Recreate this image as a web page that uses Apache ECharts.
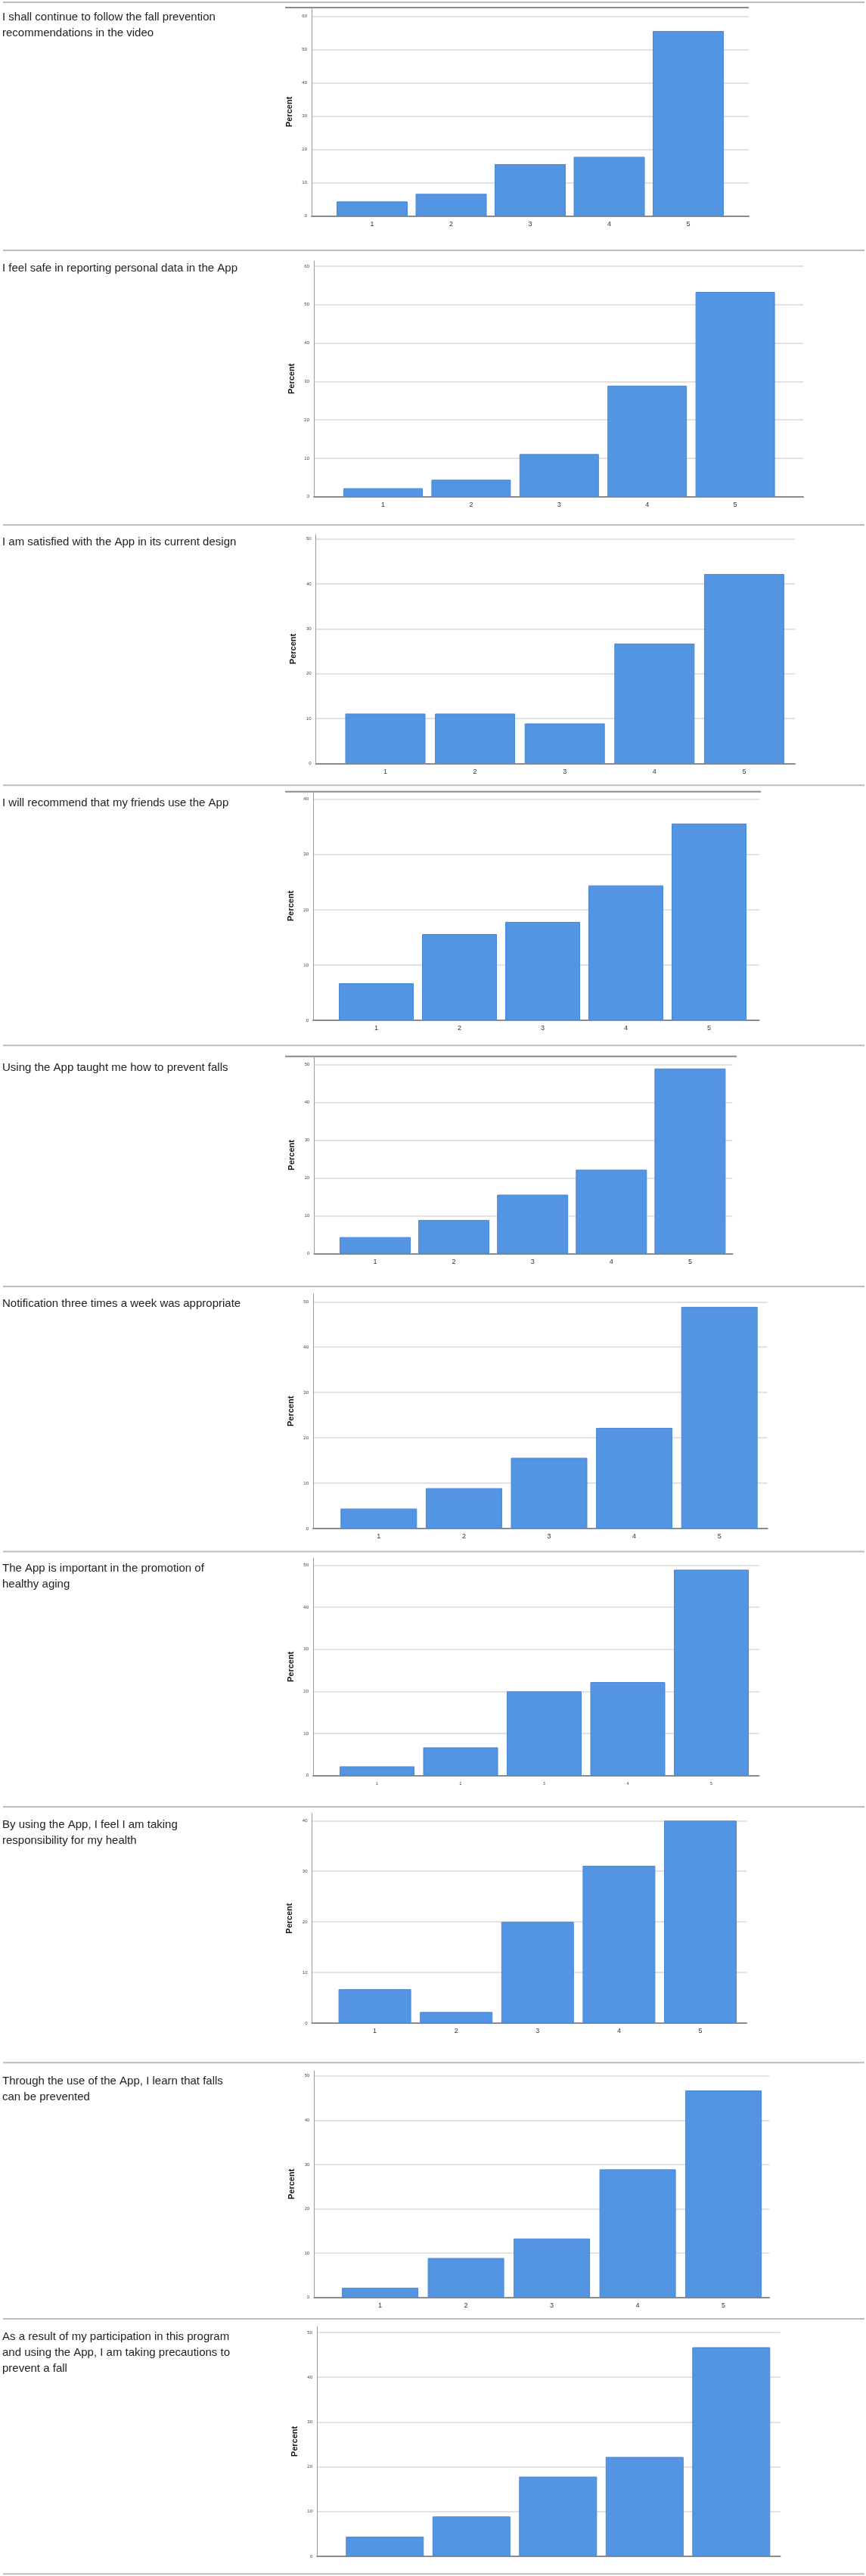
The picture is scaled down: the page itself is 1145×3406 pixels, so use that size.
<!DOCTYPE html>
<html>
<head>
<meta charset="utf-8">
<script src="https://cdn.jsdelivr.net/npm/echarts@6/dist/echarts.min.js"></script>
<style>
	html, body { margin: 0; padding: 0; background: #fff; }
	#id_survey_chart { width: 1145px; height: 3406px; }
</style>
</head>
<body>
<div id="id_survey_chart"></div>
<script>
// answer scale 1..5 shown on every x-axis
var categories = ["1", "2", "3", "4", "5"];

var questions = [
	"I shall continue to follow the fall prevention\nrecommendations in the video",
	"I feel safe in reporting personal data in the App",
	"I am satisfied with the App in its current design",
	"I will recommend that my friends use the App",
	"Using the App taught me how to prevent falls",
	"Notification three times a week was appropriate",
	"The App is important in the promotion of\nhealthy aging",
	"By using the App, I feel I am taking\nresponsibility for my health",
	"Through the use of the App, I learn that falls\ncan be prevented",
	"As a result of my participation in this program\nand using the App, I am taking precautions to\nprevent a fall"
];

// percent per answer
var pctFollowVideo = [4.4, 6.7, 15.6, 17.8, 55.6];
var pctSafeData = [2.2, 4.4, 11.1, 28.9, 53.3];
var pctSatisfied = [11.1, 11.1, 8.9, 26.7, 42.2];
var pctRecommend = [6.7, 15.6, 17.8, 24.4, 35.6];
var pctTaughtMe = [4.4, 8.9, 15.6, 22.2, 48.9];
var pctNotification = [4.4, 8.9, 15.6, 22.2, 48.9];
var pctHealthyAging = [2.2, 6.7, 20.0, 22.2, 48.9];
var pctResponsibility = [6.7, 2.2, 20.0, 31.1, 40.0];
var pctPreventable = [2.2, 8.9, 13.3, 28.9, 46.7];
var pctPrecautions = [4.4, 8.9, 17.8, 22.2, 46.7];

var allValues = [
	pctFollowVideo, pctSafeData, pctSatisfied, pctRecommend, pctTaughtMe,
	pctNotification, pctHealthyAging, pctResponsibility, pctPreventable, pctPrecautions
];

// top tick of every y-axis
var yTopTicks = [60, 60, 50, 40, 50, 50, 50, 40, 50, 50];

// page layout of each panel (pixels)
// sep: separator above, axisTop: top of y axis, tickTop: y of top tick, base: y of 0,
// ax: x of y axis, right: end of gridlines, c1: centre of bar 1, pitch, bw: bar width
var layout = [
	{ sep: 3, frame: [377, 990], axisTop: 10, tickTop: 21.7, base: 285.7, ax: 412, right: 990, c1: 492, pitch: 104.5, bw: 94, titleY: 23, labels: 9 },
	{ sep: 331, axisTop: 345, tickTop: 352, base: 656.7, ax: 415, right: 1062, c1: 506.5, pitch: 116.4, bw: 105, titleY: 355, labels: 9 },
	{ sep: 694, axisTop: 706.7, tickTop: 712.7, base: 1009.3, ax: 417.6, right: 1051, c1: 509.5, pitch: 118.6, bw: 106, titleY: 717, labels: 9 },
	{ sep: 1038.3, frame: [377, 1006], axisTop: 1046.7, tickTop: 1056.7, base: 1349, ax: 414, right: 1003.7, c1: 497.5, pitch: 110, bw: 99, titleY: 1061.7, labels: 9 },
	{ sep: 1382.3, frame: [377, 974], axisTop: 1396.7, tickTop: 1407.3, base: 1657.7, ax: 415.4, right: 968.5, c1: 496, pitch: 104.1, bw: 94, titleY: 1411.7, labels: 9 },
	{ sep: 1701, axisTop: 1710.7, tickTop: 1721.3, base: 2021, ax: 414, right: 1014.7, c1: 500.8, pitch: 112.6, bw: 101, titleY: 1724, labels: 9 },
	{ sep: 2051.5, axisTop: 2060, tickTop: 2069.3, base: 2347.7, ax: 414, right: 1003.7, c1: 498.5, pitch: 110.5, bw: 99, titleY: 2074, labels: 5 },
	{ sep: 2389, axisTop: 2398, tickTop: 2407.3, base: 2675, ax: 412.5, right: 987, c1: 495.6, pitch: 107.6, bw: 96, titleY: 2412.7, labels: 9 },
	{ sep: 2727.3, axisTop: 2738, tickTop: 2744.7, base: 3037.7, ax: 415.4, right: 1017, c1: 502.6, pitch: 113.5, bw: 101, titleY: 2751.7, labels: 9 },
	{ sep: 3066, axisTop: 3076, tickTop: 3084, base: 3380, ax: 419, right: 1031.5, c1: 508.8, pitch: 114.5, bw: 103, titleY: 3090, labels: 0 }
];
var lastSep = 3403.3;

var fontFamily = "'Liberation Sans', Arial, Helvetica, sans-serif";
var barColor = "#5495e3";

var survey_chart = echarts.init(document.getElementById("id_survey_chart"), null, { renderer: "canvas" });

var titles = [], grids = [], xAxes = [], yAxes = [], series = [], graphics = [];

function hLine(x1, x2, y, color, width) {
	graphics.push({
		type: "line",
		silent: true,
		shape: { x1: x1, y1: y, x2: x2, y2: y },
		style: { stroke: color, lineWidth: width }
	});
}

layout.forEach(function (p, i) {
	var lineH = 21;
	titles.push({
		text: questions[i],
		left: 3,
		top: p.titleY - lineH / 2,
		padding: 0,
		textStyle: { fontFamily: fontFamily, fontSize: 15, fontWeight: "normal", color: "#222", lineHeight: lineH }
	});

	hLine(4, 1143, p.sep, "#bdbdbd", 2);
	if (p.frame) hLine(p.frame[0], p.frame[1], p.axisTop, "#8a8a8a", 2);

	// stretch max so the y axis line reaches up to axisTop
	var yMax = yTopTicks[i] * (p.base - p.axisTop) / (p.base - p.tickTop);
	var h = p.base - p.axisTop;

	// grid for axis frame, gridlines and tick labels
	grids.push({ left: p.ax, top: p.axisTop, width: p.right - p.ax, height: h });
	// grid for the bars, narrower like the SPSS plot
	grids.push({ left: p.c1 - p.pitch / 2, top: p.axisTop, width: p.pitch * 5, height: h });

	xAxes.push({
		gridIndex: 2 * i,
		type: "value",
		min: 0,
		max: 1,
		axisLine: { show: true, lineStyle: { color: "#8c8c8c", width: 2 } },
		axisTick: { show: false },
		axisLabel: { show: false },
		splitLine: { show: false }
	});
	xAxes.push({
		gridIndex: 2 * i + 1,
		type: "category",
		data: categories,
		axisLine: { show: false },
		axisTick: { show: false },
		axisLabel: {
			show: p.labels > 0,
			fontSize: p.labels || 9,
			color: "#333",
			fontFamily: fontFamily,
			margin: 11 - (p.labels || 9) / 2
		}
	});

	yAxes.push({
		gridIndex: 2 * i,
		type: "value",
		min: 0,
		max: yMax,
		interval: 10,
		name: "Percent",
		nameLocation: "middle",
		nameGap: 24,
		nameTextStyle: { fontFamily: fontFamily, fontSize: 11, fontWeight: "bold", color: "#111" },
		axisLine: { show: true, lineStyle: { color: "#9a9a9a", width: 1 } },
		axisTick: { show: false },
		axisLabel: { fontSize: 6, color: "#444", margin: 6, showMaxLabel: false, fontFamily: fontFamily },
		splitLine: { show: true, showMaxLine: false, lineStyle: { color: "#d9d9d9", width: 1.5 } }
	});
	yAxes.push({
		gridIndex: 2 * i + 1,
		type: "value",
		min: 0,
		max: yMax,
		show: false
	});

	series.push({
		type: "bar",
		name: questions[i],
		xAxisIndex: 2 * i + 1,
		yAxisIndex: 2 * i + 1,
		data: allValues[i],
		barWidth: p.bw,
		itemStyle: { color: barColor, borderColor: "#4a87d6", borderWidth: 1 },
		animation: false
	});
});

hLine(4, 1143, lastSep, "#bdbdbd", 2);

survey_chart.setOption({
	animation: false,
	title: titles,
	grid: grids,
	xAxis: xAxes,
	yAxis: yAxes,
	series: series,
	graphic: graphics
});
</script>
</body>
</html>
